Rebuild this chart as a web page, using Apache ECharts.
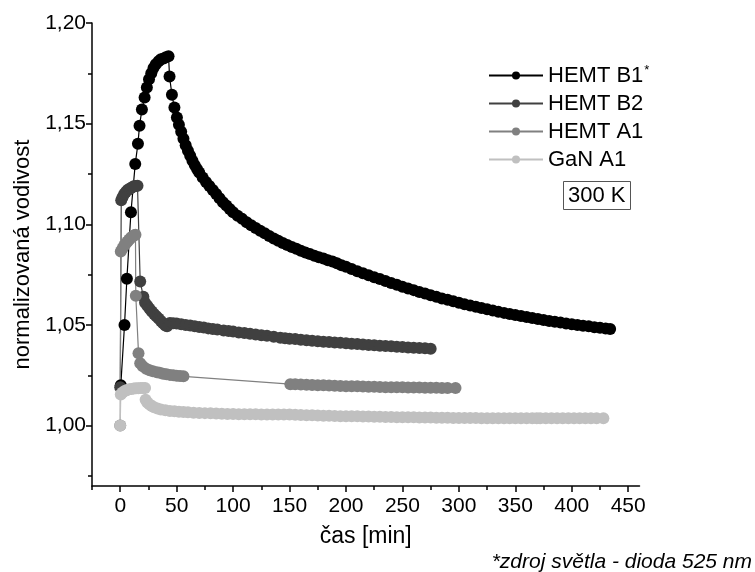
<!DOCTYPE html>
<html><head><meta charset="utf-8">
<script src="https://cdn.jsdelivr.net/npm/echarts@6/dist/echarts.min.js"></script>
<style>html,body{margin:0;padding:0;background:#fff}#c{width:755px;height:572px}</style>
</head><body><div id="c"></div>
<script>
const seriesNames = ['HEMT B1', 'HEMT B2', 'HEMT A1', 'GaN A1'];
const xTicks = [0,50,100,150,200,250,300,350,400,450];
const yTicks = [1.00,1.05,1.10,1.15,1.20];

const hemtB1 = [[0.5,1.020],[3.8,1.050],[5.9,1.073],[9.5,1.106],[13.3,1.130],[15.7,1.140],[17.1,1.149],[19.2,1.157],[21.6,1.163],[23.6,1.168],[25.5,1.172],[27.5,1.175],[29.5,1.1777],[31.5,1.1795],[34,1.181],[36,1.182],[38.4,1.1824],[40.5,1.1830],[42.8,1.1835],
[43.7,1.1734],[45.8,1.1643],[48,1.158],[50.2,1.153],[52,1.1495],[54,1.1460],[56,1.1425],[58,1.1393],[60,1.1365],[62,1.1340],[64,1.1316],[66,1.1294],[68,1.1275],[70,1.1257],[73,1.1232],[76,1.1210],[79,1.1190],[82,1.1170],[85,1.1150],[88,1.1130],[91,1.1110],[94,1.1093],[97,1.1076],[100,1.1060],[104,1.1042],[108,1.1027],[112,1.1010],[116,1.0995],[120,1.0982],[124,1.0968],[128,1.0955],[132,1.0942],[136,1.0930],[140,1.0918],[144,1.0907],[148,1.0897],[152,1.0887],[156,1.0878],[160,1.0869],[164,1.0860],[168,1.0852],[172,1.0844],[176,1.0836],[180,1.0830],[184,1.0822],[188,1.0815],[192,1.0806],[196,1.0797],[200,1.0789],[205,1.0778],[210,1.0767],[215,1.0757],[220,1.0747],[225,1.0737],[230,1.0728],[235,1.0718],[240,1.0709],[245,1.0700],[250,1.0690],[255,1.0681],[260,1.0673],[265,1.0664],[270,1.0656],[275,1.0648],[280,1.0640],[285,1.0632],[290,1.0625],[295,1.0618],[300,1.0610],[305,1.0603],[310,1.0597],[315,1.0590],[320,1.0584],[325,1.0578],[330,1.0572],[335,1.0565],[340,1.0560],[345,1.0555],[350,1.0550],[355,1.0545],[360,1.0540],[365,1.0535],[370,1.0530],[375,1.0525],[380,1.0520],[385,1.0516],[390,1.0512],[395,1.0507],[400,1.0503],[405,1.0500],[410,1.0496],[415,1.0493],[420,1.0489],[425,1.0486],[430,1.0482],[434,1.0480]];

const hemtB2 = [[0,1.019],[0.9,1.112],[2,1.1135],[3.5,1.115],[5,1.116],[6.5,1.117],[8,1.1175],[9.5,1.118],[11,1.1185],[12.5,1.119],[14,1.119],[15.3,1.1192],
[17.7,1.0716],[20.5,1.064],[22,1.061],[24,1.0595],[26,1.058],[28,1.0567],[30,1.0555],[32,1.0543],[34,1.0532],[36,1.052],[38,1.0508],[40,1.0497],[41.5,1.0493],[44,1.0510],[47,1.0509],[50,1.0507],[54,1.0503],[58,1.0500],[62,1.0497],[66,1.0494],[70,1.0490],[74,1.0487],[78,1.0483],[82,1.0480],[86,1.0477],[91.6,1.0473],[96,1.0470],[100,1.0467],[105,1.0463],[110,1.0460],[115,1.0456],[120,1.0453],[125,1.0449],[130,1.0446],[136,1.0441],[141.8,1.0437],[146,1.0434],[150,1.0432],[155,1.0430],[160,1.0427],[165,1.0424],[170,1.0422],[175,1.0419],[180,1.0417],[185,1.0415],[190,1.0413],[195,1.0411],[200,1.0409],[205,1.0407],[210,1.0405],[215,1.0403],[220,1.0401],[225,1.0399],[230,1.0397],[235,1.0395],[240,1.0394],[245,1.0392],[250,1.0390],[255,1.0388],[260,1.0387],[265,1.0385],[270,1.0384],[275,1.0382]];

const hemtA1 = [[0,1.000],[0.5,1.0865],[2,1.088],[3.5,1.0895],[5,1.0905],[6.5,1.0915],[8,1.0925],[9.5,1.0933],[11,1.094],[12.5,1.0946],[13.5,1.0948],
[13.8,1.0645],[16.2,1.036],[17.7,1.031],[20,1.0295],[23,1.0283],[26,1.0275],[29,1.0270],[32.5,1.0265],[35,1.0262],[38,1.0258],[41,1.0255],[44,1.0252],[47,1.0250],[50,1.0248],[53,1.0246],[56,1.0245],
[150.7,1.0206],[155,1.0205],[160,1.0204],[165,1.0203],[170,1.0202],[175,1.0201],[180,1.0200],[185,1.0199],[190,1.0198],[195,1.0197],[200,1.0196],[205,1.0195],[210,1.0195],[215,1.0194],[220,1.0193],[225,1.0193],[230,1.0192],[235,1.0191],[240,1.0191],[245,1.0190],[250,1.0190],[255,1.0189],[260,1.0189],[265,1.0189],[270,1.0188],[275,1.0188],[280,1.0188],[285,1.0187],[290,1.0187],[297,1.0187]];

const ganA1 = [[0,1.000],[0.5,1.0155],[2,1.0165],[4,1.0172],[6,1.0177],[8,1.018],[10,1.0182],[12,1.0184],[14,1.0185],[16,1.0186],[18,1.0187],[20,1.0187],[22,1.0187],
[22.5,1.0129],[24,1.0115],[26,1.0105],[28,1.0097],[30,1.0091],[33,1.0085],[36,1.0080],[40,1.0076],[44,1.0073],[48,1.0071],[52,1.0069],[56,1.0067],[60,1.0066],[65,1.0064],[70,1.0063],[75,1.0062],[80,1.0061],[85,1.0060],[90,1.0059],[95,1.0058],[100,1.0058],[105,1.0057],[110,1.0057],[115,1.0056],[120,1.0056],[125,1.0055],[130,1.0055],[135,1.0055],[140,1.0055],[145,1.0055],[150,1.0055],[155,1.0054],[160,1.0053],[165,1.0052],[170,1.0051],[175,1.0050],[180,1.0049],[185,1.0049],[190,1.0048],[195,1.0047],[200,1.0047],[205,1.0046],[210,1.0046],[215,1.0045],[220,1.0045],[225,1.0044],[230,1.0044],[235,1.0043],[240,1.0043],[245,1.0042],[250,1.0042],[255,1.0041],[260,1.0041],[265,1.0040],[270,1.0040],[275,1.0040],[280,1.0039],[285,1.0039],[290,1.0039],[295,1.0038],[300,1.0038],[305,1.0038],[310,1.0038],[315,1.0038],[320,1.0037],[325,1.0037],[330,1.0037],[335,1.0037],[340,1.0037],[345,1.0037],[350,1.0037],[355,1.0037],[360,1.0037],[365,1.0037],[369,1.0037],
[372,1.0036],[377,1.0036],[382,1.0036],[387,1.0036],[392,1.0036],[397,1.0036],[402,1.0036],[407,1.0036],[412,1.0036],[417,1.0036],[422,1.0036],[428,1.0036]];

const colors = ['#000000', '#404040', '#808080', '#c0c0c0'];
const allData = [hemtB1, hemtB2, hemtA1, ganA1];

const xMinor = [-25,25,75,125,175,225,275,325,375,425];
const yMinor = [0.975,1.025,1.075,1.125,1.175];
const FONT = 'Liberation Sans, Arial, sans-serif';
const fmtY = v => v.toFixed(2).replace('.', ',');

const chart = echarts.init(document.getElementById('c'), null, {renderer: 'canvas'});
chart.setOption({
  animation: false,
  grid: {left: 92, right: 115.5, top: 23, bottom: 86},
  xAxis: [{
    type: 'value', min: -25, max: 460,
    axisLine: {show: true, onZero: false, lineStyle: {color: '#000', width: 1.5}},
    axisTick: {show: true, customValues: xTicks, length: 6, lineStyle: {color: '#000', width: 1.5}},
    axisLabel: {customValues: xTicks, color: '#000', fontSize: 21, fontFamily: FONT, margin: 10},
    splitLine: {show: false},
    name: 'čas [min]', nameLocation: 'middle', nameGap: 39,
    nameTextStyle: {color: '#000', fontSize: 23, fontFamily: FONT}
  }, {
    type: 'value', min: -25, max: 460, position: 'bottom',
    axisLine: {show: false, onZero: false},
    axisTick: {show: true, customValues: xMinor, length: 4, lineStyle: {color: '#000', width: 1.5}},
    axisLabel: {show: false}, splitLine: {show: false}
  }],
  yAxis: [{
    type: 'value', min: 0.97, max: 1.20,
    axisLine: {show: true, onZero: false, lineStyle: {color: '#000', width: 1.5}},
    axisTick: {show: true, customValues: yTicks, length: 6, lineStyle: {color: '#000', width: 1.5}},
    axisLabel: {customValues: yTicks, formatter: fmtY, color: '#000', fontSize: 21, fontFamily: FONT, margin: 6},
    splitLine: {show: false},
    name: 'normalizovaná vodivost', nameLocation: 'middle', nameGap: 56,
    nameTextStyle: {color: '#000', fontSize: 22, fontFamily: FONT}
  }, {
    type: 'value', min: 0.97, max: 1.20, position: 'left',
    axisLine: {show: false, onZero: false},
    axisTick: {show: true, customValues: yMinor, length: 4, lineStyle: {color: '#000', width: 1.5}},
    axisLabel: {show: false}, splitLine: {show: false}
  }],
  legend: {
    orient: 'vertical', left: 483, top: 59,
    data: seriesNames,
    itemWidth: 54, itemHeight: 10, itemGap: 6,
    textStyle: {color: '#000', fontSize: 22, fontFamily: FONT,
      rich: {n: {fontSize: 22, fontFamily: FONT, color: '#000'}, s: {fontSize: 13, fontFamily: FONT, color: '#000', verticalAlign: 'top', padding: [0,0,10,1]}}},
    formatter: name => name === 'HEMT B1' ? '{n|HEMT B1}{s|*}' : '{n|' + name + '}'
  },
  title: {
    text: '300 K', left: 563, top: 181,
    borderColor: '#555', borderWidth: 1, padding: [4, 5, 3, 5],
    textStyle: {color: '#000', fontSize: 22, fontWeight: 'normal', fontFamily: FONT}
  },
  graphic: [{
    type: 'text', right: 3, top: 552,
    style: {text: '*zdroj světla - dioda 525 nm', fill: '#000', font: 'italic 21px Liberation Sans, Arial, sans-serif'}
  }],
  series: seriesNames.map((n, i) => ({
    name: n, type: 'line', data: allData[i],
    symbol: 'circle', symbolSize: 12, showAllSymbol: true,
    lineStyle: {color: colors[i], width: 1.2},
    itemStyle: {color: colors[i]},
    clip: false
  }))
});
</script></body></html>
